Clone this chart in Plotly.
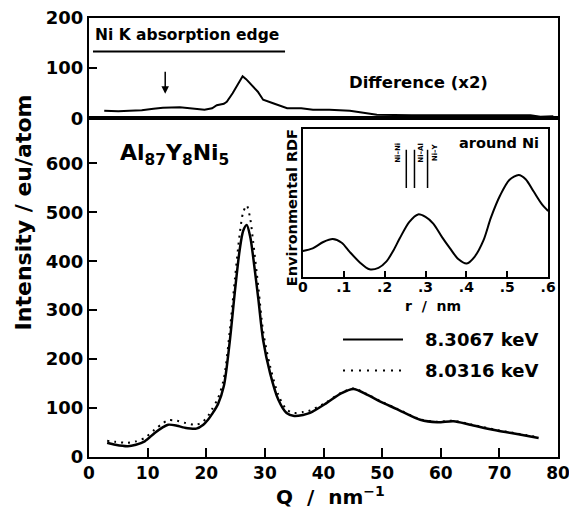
import plotly.graph_objects as go

# ---- main scattering curves: Q (nm^-1) vs intensity (e.u./atom) ----
q_main = [3.1, 4.5, 6.6, 8.0, 9.5, 11.2, 12.5, 13.5, 15.0, 16.3, 18.3, 19.5, 20.3, 21.0,
          22.0, 23.0, 24.0, 24.9, 25.7, 26.3, 26.9, 27.5, 28.0, 28.9, 29.7, 30.9, 32.3,
          33.7, 35.0, 36.5, 37.7, 40.5, 43.0, 45.1, 47.5, 49.7, 52.5, 56.5, 59.4, 62.2,
          65.0, 69.6, 73.0, 76.7]
i_83067 = [29, 25, 22, 25, 32, 49, 60, 66, 64, 60, 58, 66, 76, 88,
           108, 145, 235, 340, 423, 462, 474, 450, 409, 321, 239, 171, 117,
           90, 84, 86, 90, 110, 130, 139, 127, 113, 98, 76, 71, 73,
           66, 54, 47, 39]
i_80316 = [33, 31, 29, 32, 39, 56, 68, 75, 74, 70, 66, 73, 84, 98,
           120, 160, 256, 365, 455, 500, 514, 487, 440, 345, 257, 185, 127,
           97, 90, 92, 95, 112, 131, 140, 128, 114, 99, 77, 72, 74,
           67, 55, 48, 40]

# ---- difference curve (x2), upper panel ----
q_diff = [2.6, 5.0, 6.9, 9.0, 11.0, 12.6, 15.5, 17.5, 19.7, 21.0, 21.8, 23.0, 23.5, 24.5,
          25.5, 26.2, 26.8, 27.4, 28.2, 28.8, 29.7, 30.5, 31.4, 33.8, 36.2, 38.2, 41.0,
          44.5, 47.0, 49.1, 55.0, 60.0, 65.0, 70.0, 75.3, 77.0, 79.2]
d_x2 = [15, 14, 15, 16, 19, 21, 22, 20, 17, 20, 26, 29, 33, 50,
        70, 84, 78, 70, 60, 53, 37, 33, 30, 20, 20, 17, 17,
        15, 11, 7, 6, 6, 6, 6, 6, 3, 4]

# ---- inset: environmental RDF around Ni ----
r_nm = [0, 0.024, 0.05, 0.073, 0.095, 0.114, 0.14, 0.163, 0.185, 0.204, 0.22, 0.237,
        0.26, 0.282, 0.30, 0.319, 0.34, 0.36, 0.38, 0.401, 0.42, 0.442, 0.46, 0.483,
        0.505, 0.528, 0.545, 0.565, 0.585, 0.6]
rdf = [17.4, 19.2, 23.5, 25.5, 23, 17, 9.5, 5, 6, 10.2, 17, 26,
       37, 42.2, 40.5, 36, 27, 19.2, 12, 9, 13.5, 24.8, 40, 55.3,
       65.5, 68.9, 66, 57.5, 49, 44.5]

# pair distances marked in the inset
pair_r = [0.253, 0.273, 0.305]
pair_labels = ["Ni\u2013Ni", "Ni\u2013Al", "Ni\u2013Y"]
pair_label_r = [0.233, 0.289, 0.322]

x_ticks = [0, 10, 20, 30, 40, 50, 60, 70, 80]
y_ticks_low = [0, 100, 200, 300, 400, 500, 600]
y_ticks_up = [0, 100, 200]
r_ticks = [0, 0.1, 0.2, 0.3, 0.4, 0.5, 0.6]
r_ticktext = ["0", ".1", ".2", ".3", ".4", ".5", ".6"]

FONT = "DejaVu Sans"
BLK = "black"

fig = go.Figure()

fig.add_trace(go.Scatter(x=q_main, y=i_80316, mode="lines", xaxis="x", yaxis="y",
                         line=dict(color=BLK, width=2, dash="2px,5px", shape="spline", smoothing=0.8),
                         name="8.0316 keV", showlegend=False))
fig.add_trace(go.Scatter(x=q_main, y=i_83067, mode="lines", xaxis="x", yaxis="y",
                         line=dict(color=BLK, width=2.5, shape="spline", smoothing=0.8),
                         name="8.3067 keV", showlegend=False))
fig.add_trace(go.Scatter(x=q_diff, y=d_x2, mode="lines", xaxis="x2", yaxis="y2",
                         line=dict(color=BLK, width=2),
                         name="Difference (x2)", showlegend=False))
fig.add_trace(go.Scatter(x=r_nm, y=rdf, mode="lines", xaxis="x3", yaxis="y3",
                         line=dict(color=BLK, width=2, shape="spline", smoothing=0.8),
                         name="RDF", showlegend=False))

split = 0.7715
axis_common = dict(showline=True, linecolor=BLK, linewidth=2, mirror=True,
                   showgrid=False, zeroline=False, color=BLK, automargin=False,
                   ticklabeloverflow="allow",
                   tickfont=dict(family=FONT, size=18, color=BLK, weight="bold"))

fig.update_layout(
    width=569, height=508,
    margin=dict(l=89, r=11, t=18, b=51, autoexpand=False),
    paper_bgcolor="white", plot_bgcolor="white",
    xaxis=dict(domain=[0, 1], anchor="y", range=[0, 80], tickvals=x_ticks,
               ticks="inside", ticklen=9, tickwidth=2, tickcolor=BLK,
               ticklabelstandoff=0,
               **{**axis_common, "tickfont": dict(family=FONT, size=17, color=BLK, weight="bold")}),
    yaxis=dict(domain=[0, split], anchor="x", range=[0, 692], tickvals=y_ticks_low,
               ticks="inside", ticklen=8, tickwidth=2, tickcolor=BLK, **axis_common),
    xaxis2=dict(domain=[0, 1], anchor="y2", range=[0, 80], matches="x",
                showticklabels=False, ticks="", **axis_common),
    yaxis2=dict(domain=[split, 1], anchor="x2", range=[0, 200], tickvals=y_ticks_up,
                ticks="inside", ticklen=8, tickwidth=2, tickcolor=BLK, **axis_common),
    xaxis3=dict(domain=[0.456, 0.979], anchor="y3", range=[0, 0.6], tickvals=r_ticks,
                ticktext=r_ticktext, ticks="inside", ticklen=6, tickwidth=2, tickcolor=BLK,
                ticklabelstandoff=-4,
                **{**axis_common, "tickfont": dict(family=FONT, size=14, color=BLK, weight="bold")}),
    yaxis3=dict(domain=[0.4107, 0.747], anchor="x3", range=[0, 100],
                showticklabels=False, ticks="", **axis_common),
)

shapes = []
# pair-distance markers in the inset
for r in pair_r:
    shapes.append(dict(type="line", xref="x3", yref="y3", x0=r, x1=r, y0=60, y1=86,
                       line=dict(color=BLK, width=1.5)))
# legend samples
shapes.append(dict(type="line", xref="paper", yref="paper", x0=0.5416, x1=0.6695,
                   y0=0.2677, y1=0.2677, line=dict(color=BLK, width=2)))
shapes.append(dict(type="line", xref="paper", yref="paper", x0=0.5416, x1=0.6695,
                   y0=0.197, y1=0.197, line=dict(color=BLK, width=2, dash="2px,6px")))
# underline of the edge label
shapes.append(dict(type="line", xref="paper", yref="paper", x0=0.0085, x1=0.418,
                   y0=0.9237, y1=0.9237, line=dict(color=BLK, width=2)))
fig.update_layout(shapes=shapes)

ann = []
def txt(x, y, s, size, xanchor="left", yanchor="middle", angle=0, weight="bold", xref="paper", yref="paper"):
    ann.append(dict(x=x, y=y, xref=xref, yref=yref, text=s, showarrow=False,
                    xanchor=xanchor, yanchor=yanchor, textangle=angle,
                    font=dict(family=FONT, size=size, color=BLK, weight=weight)))

txt(0.0085, 0.961, "Ni K absorption edge", 15.5)
txt(0.855, 0.852, "Difference (x2)", 16.5, xanchor="right")
txt(0.0618, 0.69, "Al<sub>87</sub>Y<sub>8</sub>Ni<sub>5</sub>", 22)
txt(0.785, 0.715, "around Ni", 14.5)
txt(0.433, 0.567, "Environmental RDF", 14.5, xanchor="center", angle=-90)
txt(0.733, 0.344, "r  /  nm", 14, xanchor="center")
txt(0.712, 0.2677, "8.3067 keV", 18)
txt(0.712, 0.197, "8.0316 keV", 18)
txt(-0.14, 0.558, "Intensity / eu/atom", 22, xanchor="center", angle=-90)
txt(0.515, -0.088, "Q  /  nm<sup>\u22121</sup>", 20, xanchor="center")
for lab, r in zip(pair_labels, pair_label_r):
    txt(r, 84, lab, 7, xanchor="center", angle=-90, xref="x3", yref="y3")

# arrow marking the absorption-edge position
ann.append(dict(x=13, y=49, xref="x2", yref="y2", ax=13, ay=96, axref="x2", ayref="y2",
                text="", showarrow=True, arrowhead=2, arrowsize=1, arrowwidth=1.5,
                arrowcolor=BLK))
fig.update_layout(annotations=ann)

fig.write_html("out.html")
